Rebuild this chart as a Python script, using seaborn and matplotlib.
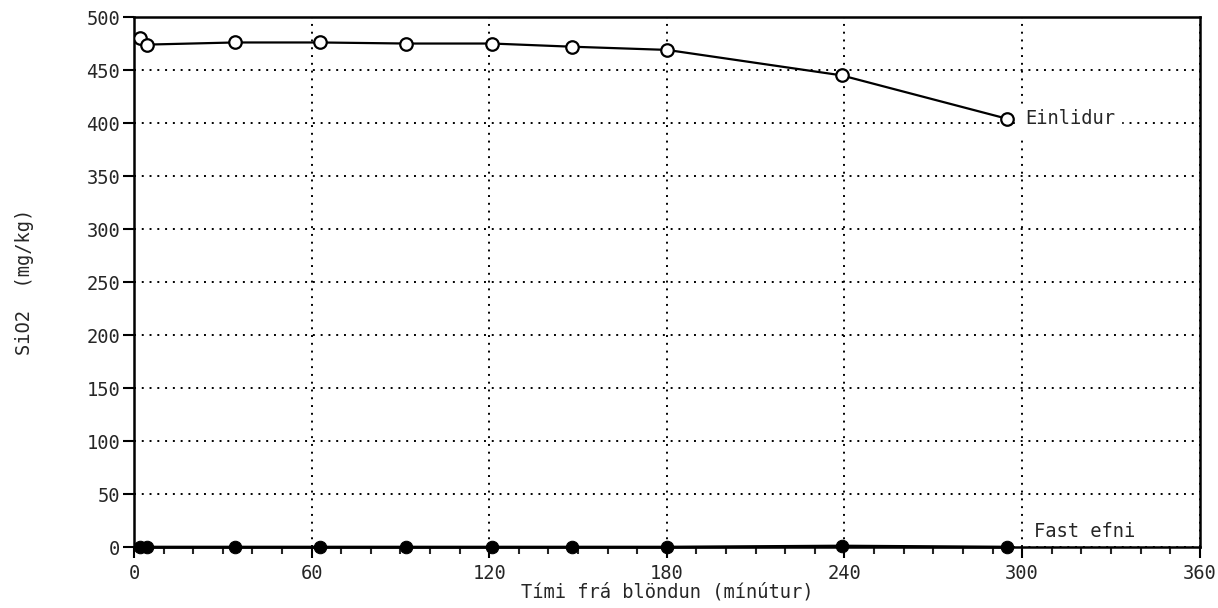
import numpy as np
import pandas as pd
import seaborn as sns
import matplotlib.pyplot as plt
from matplotlib.ticker import MultipleLocator

# Tími (mínútur) og SiO2 (mg/kg)
timi = [2, 4.5, 34, 63, 92, 121, 148, 180, 239, 295]
einlidur = [480, 474, 476, 476, 475, 475, 472, 469, 445, 404]
fast_efni = [0, 0, 0, 0, 0, 0, 0, 0, 1, 0]

sns.set_style("ticks")
plt.rcParams['font.family'] = ['DejaVu Sans Mono', 'DejaVu Sans']

df = pd.DataFrame({'timi': timi, 'einlidur': einlidur, 'fast': fast_efni})

fig = plt.figure(figsize=(12.18, 6.08), dpi=100)
ax = fig.add_axes([0.110, 0.100, 0.875, 0.872])

sns.lineplot(data=df, x='timi', y='einlidur', ax=ax, color='black', linewidth=1.6,
             marker='o', markersize=9, markerfacecolor='white',
             markeredgecolor='black', markeredgewidth=1.6, zorder=3)
sns.lineplot(data=df, x='timi', y='fast', ax=ax, color='black', linewidth=2.2,
             marker='o', markersize=9, markerfacecolor='black',
             markeredgecolor='black', zorder=3, clip_on=False)

ax.set_xlim(0, 360)
ax.set_ylim(0, 500)
ax.xaxis.set_major_locator(MultipleLocator(60))
ax.xaxis.set_minor_locator(MultipleLocator(10))
ax.yaxis.set_major_locator(MultipleLocator(50))

ax.grid(True, which='major', color='black', linestyle=(0, (1, 3)), linewidth=1.4)
ax.tick_params(axis='both', which='major', direction='out', length=8, width=1.5,
               labelsize=13.5, color='black', pad=2)
ax.tick_params(axis='x', which='major', pad=4)
ax.tick_params(axis='x', which='minor', direction='out', length=5, width=1.5)
for s in ax.spines.values():
    s.set_linewidth(1.8)
    s.set_color('black')

ax.set_xlabel('Tími frá blöndun (mínútur)', fontsize=13.5, labelpad=0)
ax.set_ylabel('SiO2  (mg/kg)', fontsize=13.5, labelpad=38)

ax.text(timi[-1] + 6, einlidur[-1], 'Einlidur', fontsize=13.5, va='center', ha='left',
        backgroundcolor='white')
ax.text(304, 15, 'Fast efni', fontsize=13.5, va='center', ha='left')

fig.savefig('out.png', dpi=100)
